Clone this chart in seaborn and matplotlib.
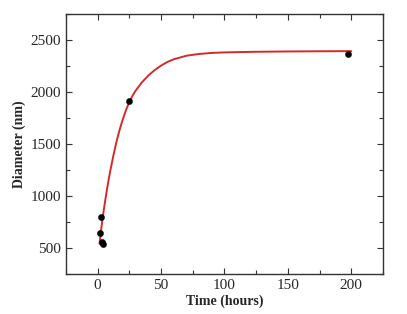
import numpy as np
import pandas as pd
import matplotlib
matplotlib.use("Agg")
import matplotlib.pyplot as plt
from matplotlib.ticker import MultipleLocator
import seaborn as sns

# measured points
time_pts = [2, 3, 3.5, 4, 24.5, 197.5]
diam_pts = [645, 797, 555, 542, 1911, 2369]

# fitted curve
fit_time = [1.5, 3, 4, 5, 6, 7.5, 9, 10, 12.5, 15, 17.5, 20, 22.5, 25, 27.5,
            30, 35, 40, 45, 50, 55, 60, 70, 80, 90, 100, 125, 150, 175, 200]
fit_diam = [540, 700, 795, 880, 960, 1075, 1180, 1245, 1395, 1530, 1645, 1745,
            1832, 1905, 1965, 2015, 2095, 2160, 2212, 2255, 2290, 2316, 2350,
            2367, 2377, 2382, 2388, 2391, 2393, 2394]

x_ticks = [0, 50, 100, 150, 200]
y_ticks = [500, 1000, 1500, 2000, 2500]

sns.set_style("ticks")
plt.rcParams['font.family'] = ['Liberation Serif', 'DejaVu Serif']

pts = pd.DataFrame({'time': time_pts, 'diam': diam_pts})
fit = pd.DataFrame({'time': fit_time, 'diam': fit_diam})

fig = plt.figure(figsize=(4.07, 3.14), dpi=100)
ax = fig.add_axes([0.162, 0.127, 0.779, 0.828])

sns.lineplot(data=fit, x='time', y='diam', ax=ax, color='#d42a2a', linewidth=1.4)
sns.scatterplot(data=pts, x='time', y='diam', ax=ax, color='black', s=20,
                edgecolor='black', linewidth=0.3, zorder=3)

ax.set_xlim(-25, 225)
ax.set_ylim(250, 2750)
ax.set_xticks(x_ticks)
ax.set_yticks(y_ticks)
ax.xaxis.set_minor_locator(MultipleLocator(25))
ax.yaxis.set_minor_locator(MultipleLocator(250))
ax.tick_params(which='both', direction='in', top=True, right=True,
               labelsize=11, color='#333333', width=0.8)
ax.tick_params(which='major', length=4)
ax.tick_params(which='minor', length=3)
for s in ax.spines.values():
    s.set_linewidth(1.0)
    s.set_color('#333333')

ax.set_xlabel('Time (hours)', fontsize=10, fontweight='bold', labelpad=2)
ax.set_ylabel('Diameter (nm)', fontsize=10, fontweight='bold', labelpad=3)

fig.savefig('out.png', dpi=100)
